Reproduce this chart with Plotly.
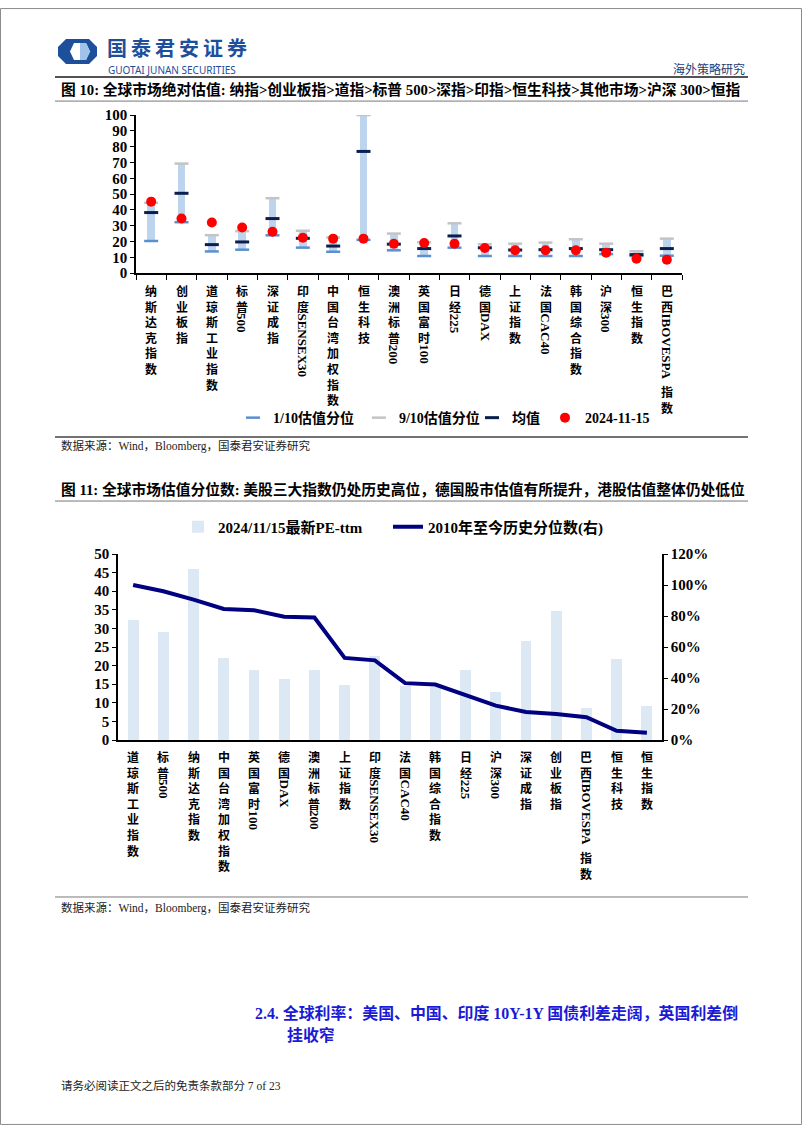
import re
import plotly.graph_objects as go

W, H = 802, 1133
# the captured page shows the figure ~8px lower and ~1.4% shorter; place texts/axes to land on target pixels
Y_OFF, Y_SC = 7.9, 0.986


def px(x):
    return x / W


def py(y):
    return 1 - ((y - Y_OFF) / Y_SC) / H


# ---------------- Chart 1 data (图10) ----------------
c1_cats = ["纳斯达克指数", "创业板指", "道琼斯工业指数", "标普500", "深证成指", "印度SENSEX30",
           "中国台湾加权指数", "恒生科技", "澳洲标普200", "英国富时100", "日经225", "德国DAX",
           "上证指数", "法国CAC40", "韩国综合指数", "沪深300", "恒生指数", "巴西IBOVESPA指数"]
c1_p10 = [20.3, 32.2, 13.7, 14.8, 23.9, 16.1, 13.5, 21.0, 14.4, 10.8, 16.1, 10.8,
          10.8, 10.8, 10.8, 12.0, 10.8, 11.0]
c1_p90 = [44.5, 69.3, 24.0, 26.5, 47.4, 26.8, 22.5, 100.0, 25.0, 19.5, 31.5, 18.2,
          18.6, 19.3, 21.4, 18.6, 13.8, 21.8]
c1_mean = [38.3, 50.5, 18.0, 19.7, 34.5, 22.0, 17.1, 77.0, 18.3, 15.5, 23.5, 16.0,
           14.6, 14.8, 15.5, 14.8, 11.7, 15.5]
c1_now = [45.2, 34.5, 32.0, 28.8, 26.2, 22.4, 21.8, 21.8, 18.6, 19.0, 18.6, 15.9,
          14.4, 14.4, 14.4, 12.9, 9.1, 8.5]
c1_names = ["1/10估值分位", "9/10估值分位", "均值", "2024-11-15"]

# ---------------- Chart 2 data (图11) ----------------
c2_cats = ["道琼斯工业指数", "标普500", "纳斯达克指数", "中国台湾加权指数", "英国富时100", "德国DAX",
           "澳洲标普200", "上证指数", "印度SENSEX30", "法国CAC40", "韩国综合指数", "日经225",
           "沪深300", "深证成指", "创业板指", "巴西IBOVESPA指数", "恒生科技", "恒生指数"]
c2_pe = [32.3, 28.9, 45.9, 22.0, 18.8, 16.3, 18.8, 14.7, 22.6, 14.4, 14.2, 18.8,
         13.0, 26.6, 34.8, 8.5, 21.9, 9.2]
c2_pct = [1.00, 0.96, 0.906, 0.846, 0.837, 0.796, 0.79, 0.53, 0.514, 0.367, 0.358, 0.29,
          0.222, 0.181, 0.168, 0.147, 0.06, 0.047]
c2_names = ["2024/11/15最新PE-ttm", "2010年至今历史分位数(右)"]

SERIF = "Liberation Serif, Noto Sans CJK SC"
CJK = "Noto Sans CJK SC"

fig = go.Figure()

# ---- chart 1 traces ----
fig.add_trace(go.Bar(x=c1_cats, y=[b - a for a, b in zip(c1_p10, c1_p90)], base=c1_p10,
                     marker=dict(color="#bdd4ee", line=dict(width=0)), width=0.25,
                     showlegend=False, xaxis="x", yaxis="y", hoverinfo="skip"))
fig.add_trace(go.Scatter(x=c1_cats, y=c1_p10, mode="markers", name=c1_names[0],
                         marker=dict(symbol="line-ew", size=10, line=dict(width=2.5, color="#5b8fd0")),
                         xaxis="x", yaxis="y", legend="legend"))
fig.add_trace(go.Scatter(x=c1_cats, y=c1_p90, mode="markers", name=c1_names[1],
                         marker=dict(symbol="line-ew", size=10, line=dict(width=2.5, color="#c4c4c4")),
                         xaxis="x", yaxis="y", legend="legend"))
fig.add_trace(go.Scatter(x=c1_cats, y=c1_mean, mode="markers", name=c1_names[2],
                         marker=dict(symbol="line-ew", size=10, line=dict(width=3, color="#0b1f4e")),
                         xaxis="x", yaxis="y", legend="legend3"))
fig.add_trace(go.Scatter(x=c1_cats, y=c1_now, mode="markers", name=c1_names[3],
                         marker=dict(symbol="circle", size=10, color="#ff0000"),
                         xaxis="x", yaxis="y", legend="legend3"))

# ---- chart 2 traces ----
fig.add_trace(go.Bar(x=c2_cats, y=c2_pe, name=c2_names[0], width=0.36,
                     marker=dict(color="#dce9f5", line=dict(width=0)),
                     xaxis="x2", yaxis="y2", legend="legend2"))
fig.add_trace(go.Scatter(x=c2_cats, y=c2_pct, name=c2_names[1], mode="lines",
                         line=dict(color="#000080", width=4),
                         xaxis="x2", yaxis="y3", legend="legend4"))

tickfont = dict(family="Liberation Serif", size=15, color="black", weight="bold")
legfont = dict(family=SERIF, size=14, color="black", weight="bold")
legfont2 = dict(family=SERIF, size=15, color="black", weight="bold")

fig.update_layout(
    width=W, height=H, margin=dict(l=0, r=0, t=0, b=0),
    paper_bgcolor="white", plot_bgcolor="rgba(0,0,0,0)",
    barmode="overlay", bargap=0,
    xaxis=dict(domain=[px(136), px(682)], anchor="y", type="category", range=[-0.5, 17.5],
               showticklabels=False, ticks="outside", tickson="boundaries", ticklen=5,
               tickcolor="black", showline=True, linecolor="black", linewidth=1.5,
               showgrid=False, zeroline=False, fixedrange=True),
    yaxis=dict(domain=[py(273), py(115)], anchor="x", range=[0, 100], dtick=10,
               ticks="outside", ticklen=4, tickcolor="black", showline=True,
               linecolor="black", linewidth=1.5, showgrid=False, zeroline=False,
               tickfont=tickfont),
    xaxis2=dict(domain=[px(118), px(662)], anchor="y2", type="category", range=[-0.5, 17.5],
                showticklabels=False, ticks="", showline=True, linecolor="black",
                linewidth=1.5, showgrid=False, zeroline=False),
    yaxis2=dict(domain=[py(740), py(554)], anchor="x2", range=[0, 50], dtick=5,
                ticks="outside", ticklen=4, tickcolor="black", showline=True,
                linecolor="black", linewidth=1.5, showgrid=False, zeroline=False,
                tickfont=tickfont),
    yaxis3=dict(overlaying="y2", anchor="x2", side="right", range=[0, 1.2], dtick=0.2,
                tickformat=".0%", ticks="outside", ticklen=4, tickcolor="black",
                showline=True, linecolor="black", linewidth=1.5, showgrid=False,
                zeroline=False, tickfont=tickfont),
    legend=dict(orientation="h", x=px(233), y=py(418), xanchor="left", yanchor="middle",
                font=legfont, bgcolor="rgba(0,0,0,0)", itemwidth=30, traceorder="normal"),
    legend3=dict(orientation="h", x=px(472), y=py(418), xanchor="left", yanchor="middle",
                 font=legfont, bgcolor="rgba(0,0,0,0)", itemwidth=30, traceorder="normal"),
    legend2=dict(orientation="h", x=px(178), y=py(527), xanchor="left", yanchor="middle",
                 font=legfont2, bgcolor="rgba(0,0,0,0)", itemwidth=30),
    legend4=dict(orientation="h", x=px(388), y=py(527), xanchor="left", yanchor="middle",
                 font=legfont2, bgcolor="rgba(0,0,0,0)", itemwidth=30),
    showlegend=True,
)

# ---- vertical category labels ----
LAT_W = {"0": .5, "1": .5, "2": .5, "3": .5, "4": .5, "5": .5, "6": .5, "7": .5, "8": .5, "9": .5,
         "A": .722, "B": .667, "C": .722, "D": .722, "E": .667, "I": .389, "N": .722,
         "O": .778, "P": .611, "S": .556, "V": .722, "X": .722}


def add_vlabels(cats, xref, ytop, fs=12, fs_lat=13):
    lh = fs * 1.3
    for c in cats:
        off = 0.0
        for seg in re.findall(r"[A-Za-z0-9]+|[^A-Za-z0-9]+", c):
            if re.match(r"[A-Za-z0-9]", seg):
                fig.add_annotation(x=c, y=py(ytop), xref=xref, yref="paper", text=seg,
                                   textangle=90, xanchor="center", yanchor="top",
                                   yshift=-off, showarrow=False, borderpad=0,
                                   font=dict(family="Liberation Serif", size=fs_lat,
                                             color="black", weight="bold"))
                off += sum(LAT_W.get(ch, .6) for ch in seg) * fs_lat + 3
            else:
                fig.add_annotation(x=c, y=py(ytop), xref=xref, yref="paper",
                                   text="<br>".join(seg), xanchor="center", yanchor="top",
                                   yshift=-off, showarrow=False, borderpad=0, align="center",
                                   font=dict(family=CJK, size=fs, color="black", weight="bold"))
                off += len(seg) * lh


add_vlabels(c1_cats, "x", 281)
add_vlabels(c2_cats, "x2", 747)


# ---- page texts ----
def txt(x, y, s, size, color="black", bold=False, family=SERIF, xanchor="left"):
    fig.add_annotation(x=px(x), y=py(y), xref="paper", yref="paper", text=s, showarrow=False,
                       xanchor=xanchor, yanchor="middle", borderpad=0,
                       font=dict(family=family, size=size, color=color,
                                 weight="bold" if bold else "normal"))


LOGO_BLUE = "#1d4f9a"
TS = "\u2009"
txt(106, 47.5, TS.join("国泰君安证券"), 20, LOGO_BLUE, True, CJK)
txt(107, 70, "GUOTAI JUNAN SECURITIES", 10, LOGO_BLUE, False, "Noto Sans")
txt(746, 68, "海外策略研究", 12, "#1f3b73", False, CJK, xanchor="right")
txt(60, 89, "图 10: 全球市场绝对估值: 纳指>创业板指>道指>标普 500>深指>印指>恒生科技>其他市场>沪深 300>恒指",
    14.75, "black", True)
txt(60, 446, "数据来源：Wind，Bloomberg，国泰君安证券研究", 11.5, "#222222")
txt(60, 489, "图 11: 全球市场估值分位数: 美股三大指数仍处历史高位，德国股市估值有所提升，港股估值整体仍处低位",
    14.75, "black", True)
txt(60, 908, "数据来源：Wind，Bloomberg，国泰君安证券研究", 11.5, "#222222")
txt(254, 1013, "2.4. 全球利率：美国、中国、印度 10Y-1Y 国债利差走阔，英国利差倒", 15.9, "#1a1ad6", True)
txt(286, 1035, "挂收窄", 15.9, "#1a1ad6", True)
txt(60, 1086, "请务必阅读正文之后的免责条款部分 7 of 23", 11.5, "#222222")


# ---- shapes: rules, border, logo ----
def hline(y, x0, x1, color, w):
    fig.add_shape(type="line", xref="paper", yref="paper", x0=px(x0), x1=px(x1),
                  y0=py(y), y1=py(y), line=dict(color=color, width=w))


fig.add_shape(type="rect", xref="paper", yref="paper", x0=px(0.5), x1=px(801.5),
              y0=0.0005, y1=0.9995, line=dict(color="#8c8c8c", width=1))
hline(77, 55, 748, "#1a1a1a", 1.5)
hline(101, 55, 748, "#777777", 1)
hline(437, 55, 748, "#444444", 1.5)
hline(501, 55, 748, "#777777", 1)
hline(897, 55, 748, "#777777", 1)


def poly(points, color):
    d = "M " + " L ".join(f"{px(x):.5f},{py(y):.5f}" for x, y in points) + " Z"
    fig.add_shape(type="path", xref="paper", yref="paper", path=d,
                  fillcolor=color, line=dict(width=0))


poly([(66, 39), (89, 39), (97, 47), (97, 56), (89, 64), (66, 64), (58, 56), (58, 47)], LOGO_BLUE)
poly([(74, 43), (86, 43), (90, 51.5), (86, 60), (74, 60), (70, 51.5)], "white")
poly([(80, 43), (86, 43), (90, 51.5), (86, 60), (80, 60)], "#9fc3ea")

fig.write_html("out.html", post_script="document.body.style.margin='0';document.body.style.padding='0';")
